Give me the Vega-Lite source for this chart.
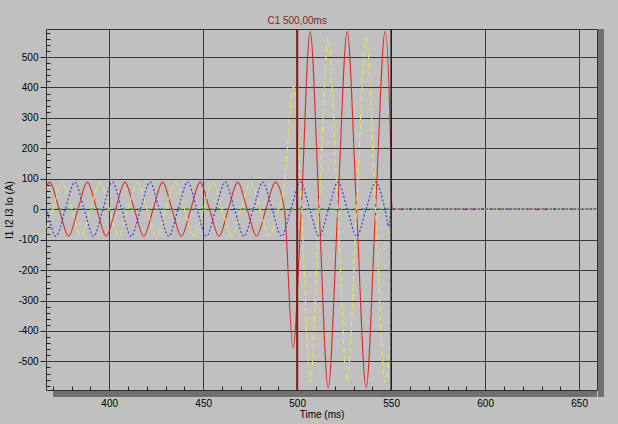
{
  "$schema": "https://vega.github.io/schema/vega-lite/v6.json",
  "width": 551,
  "height": 361,
  "autosize": {"type": "none"},
  "padding": {"left": 46, "top": 29, "right": 21, "bottom": 34},
  "background": "#c0c0c0",
  "config": {
    "view": {"stroke": "#303030", "strokeWidth": 1, "fill": "#c0c0c0"},
    "font": "Liberation Sans"
  },
  "data": {"values": [
      {"s":"I1","t":363.4,"v":0},{"s":"I1","t":368.4,"v":89},{"s":"I1","t":373.4,"v":0},{"s":"I1","t":378.4,"v":-89},
      {"s":"I1","t":383.4,"v":0},{"s":"I1","t":388.4,"v":89},{"s":"I1","t":393.4,"v":0},{"s":"I1","t":398.4,"v":-89},
      {"s":"I1","t":403.4,"v":0},{"s":"I1","t":408.4,"v":89},{"s":"I1","t":413.4,"v":0},{"s":"I1","t":418.4,"v":-89},
      {"s":"I1","t":423.4,"v":0},{"s":"I1","t":428.4,"v":89},{"s":"I1","t":433.4,"v":0},{"s":"I1","t":438.4,"v":-89},
      {"s":"I1","t":443.4,"v":0},{"s":"I1","t":448.4,"v":89},{"s":"I1","t":453.4,"v":0},{"s":"I1","t":458.4,"v":-89},
      {"s":"I1","t":463.4,"v":0},{"s":"I1","t":468.4,"v":89},{"s":"I1","t":473.4,"v":0},{"s":"I1","t":478.4,"v":-89},
      {"s":"I1","t":483.4,"v":0},{"s":"I1","t":488.4,"v":89},{"s":"I1","t":493.2,"v":0},{"s":"I1","t":497.8,"v":-456},
      {"s":"I1","t":502.2,"v":0},{"s":"I1","t":506.9,"v":584},{"s":"I1","t":511.7,"v":0},{"s":"I1","t":516.5,"v":-586},
      {"s":"I1","t":521.6,"v":0},{"s":"I1","t":526.6,"v":584},{"s":"I1","t":531.6,"v":0},{"s":"I1","t":536.7,"v":-586},
      {"s":"I1","t":541.7,"v":0},{"s":"I1","t":546.8,"v":584},{"s":"I1","t":549.9,"v":160},{"s":"I1","t":550.2,"v":30},
      {"s":"I1","t":550.6,"v":0},{"s":"I1","t":659.5,"v":0},

      {"s":"I2","t":365.1,"v":-89},{"s":"I2","t":370.1,"v":0},{"s":"I2","t":375.1,"v":89},{"s":"I2","t":380.1,"v":0},
      {"s":"I2","t":385.1,"v":-89},{"s":"I2","t":390.1,"v":0},{"s":"I2","t":395.1,"v":89},{"s":"I2","t":400.1,"v":0},
      {"s":"I2","t":405.1,"v":-89},{"s":"I2","t":410.1,"v":0},{"s":"I2","t":415.1,"v":89},{"s":"I2","t":420.1,"v":0},
      {"s":"I2","t":425.1,"v":-89},{"s":"I2","t":430.1,"v":0},{"s":"I2","t":435.1,"v":89},{"s":"I2","t":440.1,"v":0},
      {"s":"I2","t":445.1,"v":-89},{"s":"I2","t":450.1,"v":0},{"s":"I2","t":455.1,"v":89},{"s":"I2","t":460.1,"v":0},
      {"s":"I2","t":465.1,"v":-89},{"s":"I2","t":470.1,"v":0},{"s":"I2","t":475.1,"v":89},{"s":"I2","t":480.1,"v":0},
      {"s":"I2","t":485.1,"v":-89},{"s":"I2","t":490.1,"v":0},{"s":"I2","t":493.0,"v":70},{"s":"I2","t":498.0,"v":403},
      {"s":"I2","t":502.4,"v":0},{"s":"I2","t":506.9,"v":-567},{"s":"I2","t":511.7,"v":0},{"s":"I2","t":516.5,"v":563},
      {"s":"I2","t":521.6,"v":0},{"s":"I2","t":526.6,"v":-567},{"s":"I2","t":531.6,"v":0},{"s":"I2","t":536.7,"v":563},
      {"s":"I2","t":541.7,"v":0},{"s":"I2","t":546.8,"v":-567},{"s":"I2","t":549.9,"v":-400},{"s":"I2","t":550.3,"v":0},
      {"s":"I2","t":659.5,"v":0},

      {"s":"I3","t":361.7,"v":89},{"s":"I3","t":366.7,"v":0},{"s":"I3","t":371.7,"v":-89},{"s":"I3","t":376.7,"v":0},
      {"s":"I3","t":381.7,"v":89},{"s":"I3","t":386.7,"v":0},{"s":"I3","t":391.7,"v":-89},{"s":"I3","t":396.7,"v":0},
      {"s":"I3","t":401.7,"v":89},{"s":"I3","t":406.7,"v":0},{"s":"I3","t":411.7,"v":-89},{"s":"I3","t":416.7,"v":0},
      {"s":"I3","t":421.7,"v":89},{"s":"I3","t":426.7,"v":0},{"s":"I3","t":431.7,"v":-89},{"s":"I3","t":436.7,"v":0},
      {"s":"I3","t":441.7,"v":89},{"s":"I3","t":446.7,"v":0},{"s":"I3","t":451.7,"v":-89},{"s":"I3","t":456.7,"v":0},
      {"s":"I3","t":461.7,"v":89},{"s":"I3","t":466.7,"v":0},{"s":"I3","t":471.7,"v":-89},{"s":"I3","t":476.7,"v":0},
      {"s":"I3","t":481.7,"v":89},{"s":"I3","t":486.7,"v":0},{"s":"I3","t":491.7,"v":-89},{"s":"I3","t":496.7,"v":0},
      {"s":"I3","t":501.7,"v":89},{"s":"I3","t":506.7,"v":0},{"s":"I3","t":511.7,"v":-89},{"s":"I3","t":516.7,"v":0},
      {"s":"I3","t":521.7,"v":89},{"s":"I3","t":526.7,"v":0},{"s":"I3","t":531.7,"v":-89},{"s":"I3","t":536.7,"v":0},
      {"s":"I3","t":541.7,"v":89},{"s":"I3","t":546.7,"v":0},{"s":"I3","t":548.7,"v":-57},{"s":"I3","t":550.1,"v":0},
      {"s":"I3","t":659.5,"v":0},

      {"s":"Io","t":366.4,"v":0},{"s":"Io","t":659.5,"v":0}
  ]},
  "encoding": {
    "x": {
      "type": "quantitative",
      "scale": {"domain": [366.4, 659.5], "nice": false, "zero": false},
      "axis": {
        "values": [370,380,390,400,410,420,430,440,450,460,470,480,490,500,510,520,530,540,550,560,570,580,590,600,610,620,630,640,650],
        "grid": true,
        "gridColor": "#383838",
        "gridOpacity": {"condition": {"test": "datum.value % 50 === 0", "value": 1}, "value": 0},
        "tickSize": {"condition": {"test": "datum.value % 50 === 0", "value": 6}, "value": -4},
        "tickColor": "#202020",
        "domain": false,
        "labelExpr": "datum.value % 50 === 0 ? '' + datum.value : ''",
        "labelFont": "Liberation Sans", "labelFontSize": 10, "labelColor": "#000000",
        "labelPadding": 2, "labelFlush": false, "labelOverlap": false,
        "title": "Time (ms)", "titleFont": "Liberation Sans", "titleFontSize": 10,
        "titleFontWeight": "normal", "titleColor": "#000000", "titlePadding": 1
      }
    },
    "y": {
      "type": "quantitative",
      "scale": {"domain": [-594, 592], "nice": false, "zero": false},
      "axis": {
        "values": [-580,-560,-540,-520,-500,-480,-460,-440,-420,-400,-380,-360,-340,-320,-300,-280,-260,-240,-220,-200,-180,-160,-140,-120,-100,-80,-60,-40,-20,0,20,40,60,80,100,120,140,160,180,200,220,240,260,280,300,320,340,360,380,400,420,440,460,480,500,520,540,560,580],
        "grid": true,
        "gridColor": "#383838",
        "gridOpacity": {"condition": {"test": "datum.value % 100 === 0", "value": 1}, "value": 0},
        "tickSize": {"condition": {"test": "datum.value % 100 === 0", "value": 6}, "value": -4},
        "tickColor": "#202020",
        "domain": false,
        "labelExpr": "datum.value % 100 === 0 ? '' + datum.value : ''",
        "labelFont": "Liberation Sans", "labelFontSize": 10, "labelColor": "#000000",
        "labelPadding": 2, "labelFlush": false, "labelOverlap": false,
        "title": "I1 I2 I3 Io (A)", "titleFont": "Liberation Sans", "titleFontSize": 10,
        "titleFontWeight": "normal", "titleColor": "#000000", "titlePadding": 3
      }
    }
  },
  "layer": [
    {
      "transform": [{"filter": "datum.s === 'I1'"}],
      "mark": {"type": "line", "interpolate": "monotone", "clip": true, "color": "#dc2a2a", "strokeWidth": 1.1},
      "encoding": {"x": {"field": "t"}, "y": {"field": "v"}}
    },
    {
      "data": {"values": [{"v": 0}]},
      "mark": {"type": "rule", "color": "#202020", "strokeDash": [4, 4], "strokeWidth": 1},
      "encoding": {"y": {"field": "v"}}
    },
    {
      "transform": [{"filter": "datum.s === 'Io'"}],
      "mark": {"type": "line", "clip": true, "color": "#3cc83c", "strokeDash": [4, 4], "strokeDashOffset": 4, "strokeWidth": 1},
      "encoding": {"x": {"field": "t"}, "y": {"field": "v"}}
    },
    {
      "transform": [{"filter": "datum.s === 'I2'"}],
      "mark": {"type": "line", "interpolate": "monotone", "clip": true, "color": "#e2e25c", "strokeDash": [6, 3], "strokeWidth": 1.1},
      "encoding": {"x": {"field": "t"}, "y": {"field": "v"}}
    },
    {
      "transform": [{"filter": "datum.s === 'I3'"}],
      "mark": {"type": "line", "interpolate": "monotone", "clip": true, "color": "#3c3cd8", "strokeDash": [2, 2], "strokeWidth": 1.2},
      "encoding": {"x": {"field": "t"}, "y": {"field": "v"}}
    },
    {
      "data": {"values": [{"t": 500}]},
      "mark": {"type": "rule", "color": "#8a1515", "strokeWidth": 2},
      "encoding": {"x": {"field": "t"}}
    },
    {
      "data": {"values": [{"t": 550}]},
      "mark": {"type": "rule", "color": "#202020", "strokeWidth": 1.5},
      "encoding": {"x": {"field": "t"}}
    },
    {
      "data": {"values": [{"t": 500, "label": "C1 500,00ms"}]},
      "mark": {"type": "text", "color": "#8a2020", "fontSize": 10, "font": "Liberation Sans", "baseline": "bottom", "dy": -3},
      "encoding": {
        "x": {"field": "t"},
        "y": {"datum": 592},
        "text": {"field": "label", "type": "nominal"}
      }
    },
    {
      "data": {"values": [{"k": 1}]},
      "mark": {"type": "rule", "color": "#707070", "strokeWidth": 6, "xOffset": 4, "yOffset": 7},
      "encoding": {"x": {"datum": 659.5}, "y": {"datum": -594}, "y2": {"datum": 592}}
    },
    {
      "data": {"values": [{"k": 1}]},
      "mark": {"type": "rule", "color": "#707070", "strokeWidth": 6, "xOffset": 7, "yOffset": 4},
      "encoding": {"x": {"datum": 366.4}, "x2": {"datum": 659.5}, "y": {"datum": -594}}
    }
  ]
}
